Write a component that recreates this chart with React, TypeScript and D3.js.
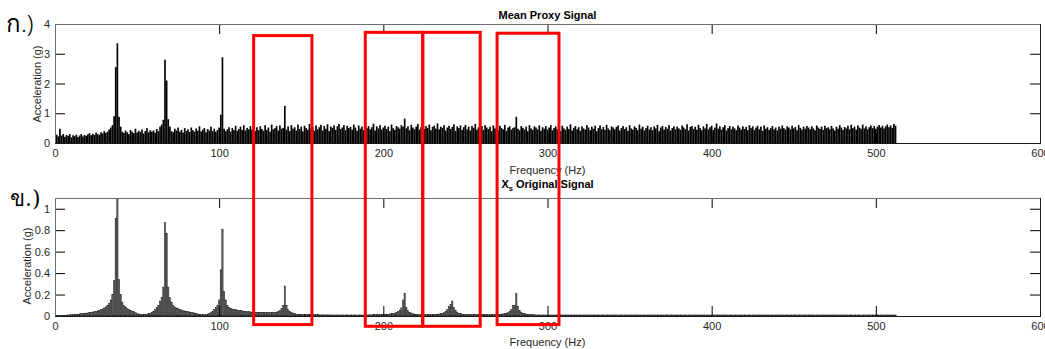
import React, { useEffect, useRef } from 'react'
import * as d3 from 'd3'

// frequency bins are 1 Hz wide, index = frequency (Hz)
const meanProxy = [
  .32, .28, .22, .48, .25, .30, .21, .27, .24, .30, .19, .26, .23, .28, .20, .25, .30, .22, .27, .24,
  .29, .33, .26, .31, .27, .35, .30, .28, .36, .32, .40, .34, .38, .45, .52, .60, .90, 2.55, 3.35, .88,
  .55, .38, .34, .42, .36, .30, .44, .38, .33, .48, .35, .41, .37, .45, .32, .40, .50, .36, .43, .38,
  .42, .35, .47, .40, .55, .62, .78, 2.80, 2.10, .80, .55, .40, .36, .48, .42, .52, .38, .44, .35, .50,
  .40, .46, .37, .52, .43, .38, .49, .41, .56, .39, .45, .50, .36, .47, .42, .55, .40, .48, .38, .44,
  .52, .95, 2.88, .48, .40, .46, .53, .38, .50, .43, .58, .41, .47, .55, .44, .60, .42, .51, .46, .57,
  .45, .58, .40, .53, .43, .56, .47, .41, .60, .44, .52, .38, .62, .46, .50, .57, .42, .59, .48, .51,
  1.25, .45, .56, .40, .60, .48, .53, .42, .62, .47, .55, .39, .58, .50, .44, .64, .49, .54, .41, .59,
  .46, .53, .61, .42, .57, .48, .63, .40, .55, .51, .59, .44, .56, .64, .47, .52, .60, .43, .58, .50,
  .54, .45, .62, .52, .41, .59, .48, .55, .43, .61, .50, .57, .46, .53, .65, .42, .56, .49, .60, .45,
  .52, .58, .47, .55, .40, .62, .50, .44, .57, .53, .48, .60, .55, .82, .49, .56, .43, .61, .52, .46,
  .55, .64, .45, .53, .59, .47, .57, .50, .62, .43, .54, .58, .48, .66, .46, .55, .51, .60, .42, .52,
  .58, .47, .54, .63, .41, .56, .50, .59, .44, .53, .61, .46, .55, .42, .57, .51, .64, .45, .53, .48,
  .57, .44, .60, .52, .47, .55, .40, .59, .49, .54, .43, .58, .50, .46, .61, .41, .52, .56, .45, .50,
  .53, .88, .48, .43, .57, .51, .45, .55, .40, .60, .49, .44, .56, .52, .46, .59, .41, .53, .48, .57,
  .45, .52, .60, .43, .50, .56, .46, .54, .40, .58, .49, .44, .55, .47, .63, .42, .51, .57, .46, .53,
  .41, .56, .49, .45, .60, .52, .43, .55, .48, .58, .40, .50, .59, .46, .54, .44, .61, .49, .43, .56,
  .52, .46, .54, .59, .42, .50, .57, .47, .53, .41, .60, .49, .45, .56, .51, .43, .62, .48, .55, .42,
  .50, .58, .45, .53, .43, .56, .49, .61, .40, .52, .57, .45, .54, .48, .60, .42, .50, .56, .46, .55,
  .49, .44, .59, .52, .46, .63, .42, .54, .57, .47, .55, .45, .61, .50, .43, .56, .49, .64, .46, .53,
  .58, .44, .52, .66, .48, .56, .45, .53, .60, .42, .50, .57, .46, .55, .49, .43, .59, .52, .45, .56,
  .47, .54, .43, .60, .50, .56, .44, .52, .58, .46, .55, .41, .59, .48, .53, .44, .50, .57, .46, .52,
  .42, .55, .48, .59, .50, .45, .56, .52, .46, .58, .49, .54, .43, .60, .51, .45, .55, .48, .57, .52,
  .46, .56, .49, .43, .59, .52, .47, .55, .44, .58, .50, .53, .46, .57, .49, .42, .55, .48, .60, .52,
  .44, .54, .49, .58, .46, .61, .50, .55, .45, .59, .52, .48, .62, .49, .56, .46, .53, .59, .50, .57,
  .48, .55, .60, .52, .58, .49, .56, .62, .53, .59, .51, .64, .58,
]

const xsOriginal = [
  .002, .003, .004, .005, .006, .007, .008, .009, .010, .011, .012, .013, .014, .016, .017, .019, .021, .023, .025, .027,
  .029, .031, .034, .037, .040, .044, .048, .053, .060, .065, .075, .085, .10, .12, .15, .20, .33, .91, 1.15, .34,
  .20, .13, .10, .085, .07, .06, .05, .045, .04, .03, .025, .02, .015, .015, .014, .015, .018, .022, .027, .035,
  .045, .06, .08, .10, .14, .17, .27, .87, .77, .27, .17, .13, .10, .085, .075, .068, .062, .056, .05, .047,
  .044, .041, .038, .035, .032, .028, .024, .02, .016, .013, .012, .012, .014, .018, .024, .032, .045, .06, .08, .10,
  .15, .43, .81, .23, .15, .10, .08, .07, .065, .06, .058, .055, .052, .05, .048, .046, .044, .042, .04, .038,
  .037, .036, .035, .034, .034, .033, .032, .032, .031, .031, .030, .030, .031, .032, .034, .037, .042, .05, .07, .10,
  .28, .10, .06, .045, .035, .028, .022, .018, .016, .015, .014, .014, .013, .013, .013, .012, .012, .012, .012, .012,
  .012, .011, .011, .011, .011, .011, .011, .010, .010, .010, .010, .010, .010, .010, .010, .010, .010, .010, .010, .010,
  .010, .010, .010, .010, .010, .010, .010, .010, .010, .010, .011, .011, .011, .011, .012, .012, .012, .013, .013, .014,
  .014, .015, .016, .017, .019, .021, .024, .028, .034, .042, .055, .075, .15, .21, .08, .05, .035, .028, .022, .018,
  .016, .015, .014, .013, .013, .013, .013, .013, .013, .014, .014, .015, .016, .017, .019, .022, .026, .032, .042, .06,
  .09, .11, .14, .08, .05, .035, .026, .021, .018, .016, .015, .014, .013, .013, .012, .012, .012, .012, .012, .012,
  .012, .012, .012, .012, .012, .012, .013, .013, .013, .014, .015, .016, .018, .02, .023, .027, .033, .042, .06, .10,
  .10, .21, .09, .05, .035, .027, .022, .018, .016, .014, .013, .012, .011, .011, .010, .010, .010, .010, .010, .010,
  .010, .010, .010, .010, .010, .010, .010, .010, .010, .010, .010, .010, .010, .010, .010, .010, .010, .010, .010, .010,
  .010, .010, .010, .010, .010, .010, .010, .010, .010, .010, .010, .010, .010, .010, .010, .010, .010, .010, .010, .010,
  .010, .010, .010, .010, .010, .010, .010, .010, .010, .010, .010, .010, .010, .010, .010, .010, .010, .010, .010, .010,
  .010, .010, .010, .010, .010, .010, .010, .010, .010, .010, .010, .010, .010, .010, .010, .010, .010, .010, .010, .010,
  .010, .010, .010, .010, .010, .010, .010, .010, .010, .010, .010, .010, .010, .010, .010, .010, .010, .010, .010, .010,
  .010, .010, .010, .010, .010, .010, .010, .010, .010, .010, .010, .010, .010, .010, .010, .010, .010, .010, .010, .010,
  .010, .010, .010, .010, .010, .010, .010, .010, .010, .010, .010, .010, .010, .010, .010, .010, .010, .010, .010, .010,
  .010, .010, .010, .010, .010, .010, .010, .010, .010, .010, .010, .010, .010, .010, .010, .010, .010, .010, .010, .010,
  .010, .010, .010, .010, .010, .010, .010, .010, .010, .010, .010, .010, .010, .010, .010, .010, .010, .010, .010, .010,
  .010, .010, .010, .010, .010, .010, .010, .010, .010, .010, .010, .010, .010, .010, .010, .010, .010, .010, .010, .010,
  .010, .010, .010, .010, .010, .010, .010, .010, .010, .010, .010, .010, .010,
]

const xTicks = [0, 100, 200, 300, 400, 500, 600]
const topYTicks = [0, 1, 2, 3, 4]
const bottomYTicks = [0, 0.2, 0.4, 0.6, 0.8, 1]

// red highlight boxes: frequency span, top in upper-panel units, bottom in lower-panel units
const boxes = [
  { f0: 121, f1: 156.5, top: 3.61, bottom: -0.08 },
  { f0: 189, f1: 224, top: 3.72, bottom: -0.096 },
  { f0: 224, f1: 259, top: 3.72, bottom: -0.096 },
  { f0: 269.3, f1: 307, top: 3.69, bottom: -0.08 },
]

const FONT = '"Liberation Sans", Arial, Helvetica, sans-serif'

function App() {
  const refSvg = useRef(null)

  const draw = () => {
    const svg = d3.select(refSvg.current)
    svg.selectAll('*').remove()

    const x = d3.scaleLinear().domain([0, 600]).range([55, 1040])
    const yTop = d3.scaleLinear().domain([0, 4]).range([143, 24])
    const yBot = d3.scaleLinear().domain([0, 1.1]).range([316, 198])

    const panels = [
      { id: 'p1', data: meanProxy, y: yTop, ticks: topYTicks, fill: '#000', stroke: 'none', bar: 1.02, ylabX: 41, ylabY: 84, xlabY: 174 },
      { id: 'p2', data: xsOriginal, y: yBot, ticks: bottomYTicks, fill: '#5e5e5e', stroke: '#111', bar: 0.8, ylabX: 31, ylabY: 266, xlabY: 346 },
    ]

    panels.forEach((p) => {
      const [y0, y1] = p.y.range()
      const g = svg.append('g')

      g.append('clipPath')
        .attr('id', `clip-${p.id}`)
        .append('rect')
        .attr('x', 55)
        .attr('y', y1)
        .attr('width', 985)
        .attr('height', y0 - y1)

      const bw = x(p.bar) - x(0)
      g.append('g')
        .attr('clip-path', `url(#clip-${p.id})`)
        .selectAll('rect')
        .data(p.data)
        .join('rect')
        .attr('x', (d, i) => x(i) - bw / 2)
        .attr('y', (d) => p.y(d))
        .attr('width', bw)
        .attr('height', (d) => p.y(0) - p.y(d))
        .attr('fill', p.fill)
        .attr('stroke', p.stroke)
        .attr('stroke-width', 0.4)

      const styleAxis = (sel: any, showText: boolean) => {
        sel.select('.domain').remove()
        sel.attr('color', '#000')
        sel.selectAll('text')
          .attr('fill', '#262626')
          .style('font-family', FONT)
          .style('font-size', '11px')
          .style('display', showText ? null : 'none')
      }

      g.append('g')
        .attr('transform', `translate(0,${y0})`)
        .call(d3.axisBottom(x).tickValues(xTicks).tickSize(-10).tickSizeOuter(0).tickPadding(6))
        .call((s: any) => styleAxis(s, true))
      g.append('g')
        .attr('transform', `translate(0,${y1})`)
        .call(d3.axisTop(x).tickValues(xTicks).tickSize(-10).tickSizeOuter(0))
        .call((s: any) => styleAxis(s, false))
      g.append('g')
        .attr('transform', 'translate(55,0)')
        .call(d3.axisLeft(p.y).tickValues(p.ticks).tickSize(-10).tickSizeOuter(0).tickPadding(5).tickFormat(d3.format('~g')))
        .call((s: any) => styleAxis(s, true))
      g.append('g')
        .attr('transform', 'translate(1040,0)')
        .call(d3.axisRight(p.y).tickValues(p.ticks).tickSize(-10).tickSizeOuter(0))
        .call((s: any) => styleAxis(s, false))

      // axes box
      g.append('line').attr('x1', 55).attr('x2', 1040).attr('y1', y1 + 0.5).attr('y2', y1 + 0.5).attr('stroke', '#6e6e6e')
      g.append('line').attr('x1', 55.5).attr('x2', 55.5).attr('y1', y1).attr('y2', y0).attr('stroke', '#6e6e6e')
      g.append('line').attr('x1', 55).attr('x2', 1040).attr('y1', y0 + 0.5).attr('y2', y0 + 0.5).attr('stroke', '#1a1a1a')
      g.append('line').attr('x1', 1040.5).attr('x2', 1040.5).attr('y1', y1).attr('y2', y0 + 1).attr('stroke', '#1a1a1a')

      g.append('text')
        .attr('transform', `translate(${p.ylabX},${p.ylabY}) rotate(-90)`)
        .attr('text-anchor', 'middle')
        .attr('fill', '#262626')
        .style('font-family', FONT)
        .style('font-size', '11px')
        .text('Acceleration (g)')

      g.append('text')
        .attr('x', 547.5)
        .attr('y', p.xlabY)
        .attr('text-anchor', 'middle')
        .attr('fill', '#262626')
        .style('font-family', FONT)
        .style('font-size', '11px')
        .text('Frequency (Hz)')
    })

    svg.append('text')
      .attr('x', 547.5)
      .attr('y', 19)
      .attr('text-anchor', 'middle')
      .style('font-family', FONT)
      .style('font-size', '11px')
      .style('font-weight', 'bold')
      .text('Mean Proxy Signal')

    const t2 = svg.append('text')
      .attr('x', 547.5)
      .attr('y', 188)
      .attr('text-anchor', 'middle')
      .style('font-family', FONT)
      .style('font-size', '11px')
      .style('font-weight', 'bold')
    t2.append('tspan').text('X')
    t2.append('tspan').attr('dy', 3).style('font-size', '7.5px').text('s')
    t2.append('tspan').attr('dy', -3).text(' Original Signal')

    svg.append('text')
      .attr('x', 6)
      .attr('y', 32)
      .style('font-family', '"Noto Sans", "DejaVu Sans", sans-serif')
      .style('font-size', '24px')
      .style('font-weight', 300)
      .text('ก.)')
    svg.append('text')
      .attr('x', 10)
      .attr('y', 206)
      .style('font-family', '"DejaVu Serif", serif')
      .style('font-size', '22px')
      .text('ข.)')

    svg.append('g')
      .selectAll('rect')
      .data(boxes)
      .join('rect')
      .attr('x', (d) => x(d.f0))
      .attr('y', (d) => yTop(d.top))
      .attr('width', (d) => x(d.f1) - x(d.f0))
      .attr('height', (d) => yBot(d.bottom) - yTop(d.top))
      .attr('fill', 'none')
      .attr('stroke', '#ff0000')
      .attr('stroke-width', 3)
  }

  useEffect(() => {
    if (refSvg) {
      draw()
    }
  })

  return (
    <svg
      ref={refSvg}
      width={1045}
      height={349}
      style={{ position: 'absolute', left: 0, top: 0, background: '#fff' }}
    />
  )
}

export default App
